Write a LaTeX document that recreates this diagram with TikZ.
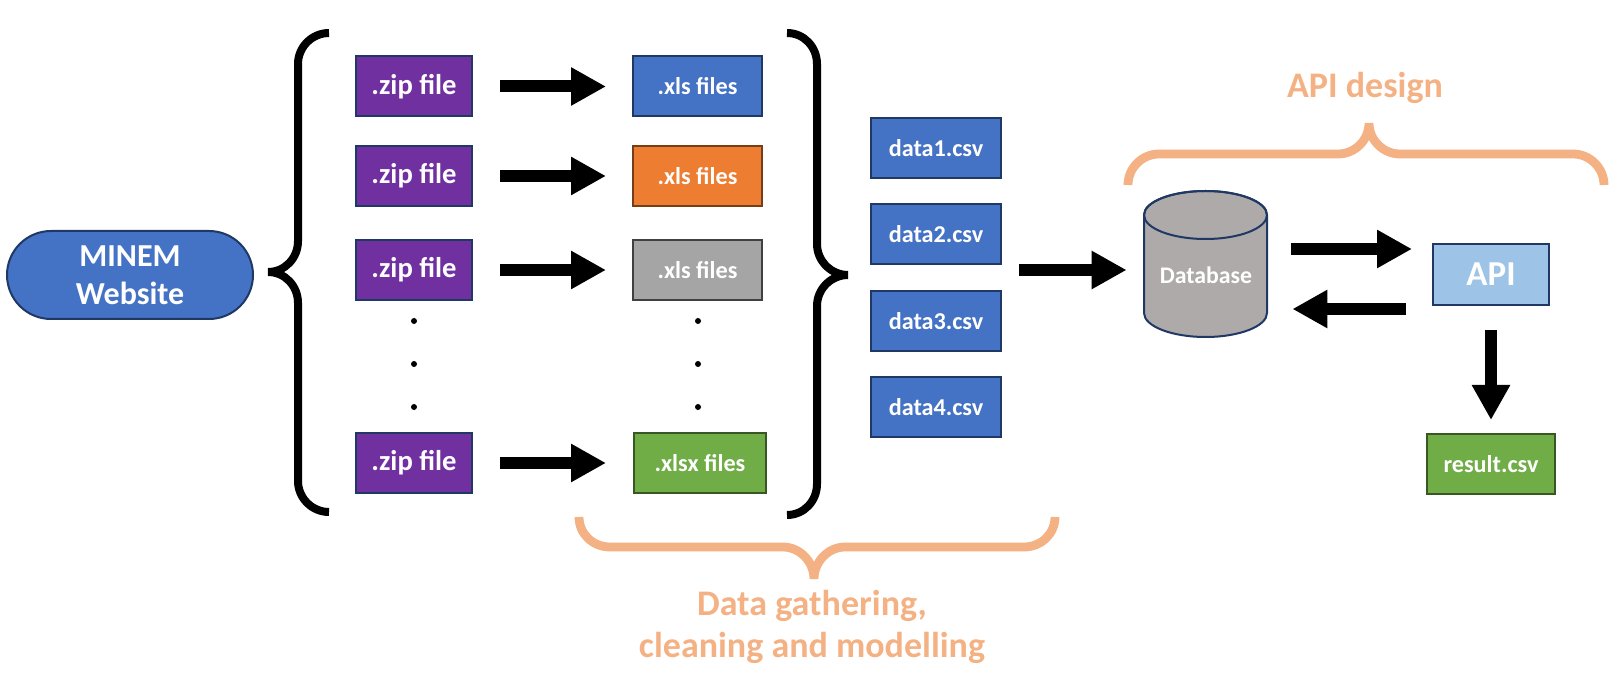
\documentclass[tikz,border=0pt]{standalone}
\usepackage{fontspec}
\setmainfont{Carlito}
\usepackage{tikz}
\usetikzlibrary{arrows.meta, calc}
\definecolor{navyblue}{HTML}{1F3864}
\definecolor{fileblue}{HTML}{4472C4}
\definecolor{zippurple}{HTML}{7030A0}
\definecolor{xlsorange}{HTML}{ED7D31}
\definecolor{xlsgray}{HTML}{A5A5A5}
\definecolor{xlsgreen}{HTML}{70AD47}
\definecolor{apiblue}{HTML}{9DC3E6}
\definecolor{dbgray}{HTML}{AEAAAA}
\definecolor{peach}{HTML}{F4B183}

\begin{document}
\begin{tikzpicture}[x=0.5pt, y=-0.5pt,
    box/.style={draw=navyblue, fill=fileblue, line width=1pt, minimum height=30pt, inner sep=0pt,
        text=white, font=\fontsize{12.1}{15}\selectfont\bfseries},
    zip/.style={box, fill=zippurple, minimum width=58pt, font=\fontsize{14.3}{17}\selectfont\bfseries},
    xls/.style={box, minimum width=64.5pt},
    csv/.style={box, minimum width=65pt},
    bigarrow/.style={line width=6pt, -{Triangle[length=17.5pt, width=18pt]}},
    curly/.style={line width=4pt},
    peachbrace/.style={peach, line width=4.4pt},
    peachtext/.style={text=peach, font=\fontsize{18}{21}\selectfont\bfseries}]
    \useasboundingbox (0,0) rectangle (1623,673);

    % source
    \node[draw=navyblue, fill=fileblue, line width=1pt, rounded corners=22pt, minimum width=123pt,
        minimum height=44pt, align=center, text=white, font=\fontsize{16}{19}\selectfont\bfseries]
        (minem) at (130,275) {MINEM\\Website};

    % files
    \node[zip] (zip1) at (414,86.5) {.zip file};
    \node[zip] (zip2) at (414,176) {.zip file};
    \node[zip] (zip3) at (414,270) {.zip file};
    \node[zip] (zip4) at (414,463) {.zip file};
    \node[xls] (xls1) at (697.5,86.5) {.xls files};
    \node[xls, fill=xlsorange, draw=xlsorange!50!black] (xls2) at (697.5,176) {.xls files};
    \node[xls, fill=xlsgray, draw=black!75] (xls3) at (697.5,270) {.xls files};
    \node[xls, fill=xlsgreen, draw=xlsgreen!50!black, minimum width=66pt] (xlsx) at (700,463) {.xlsx files};
    \foreach \y in {321,364,407} {
        \fill (414,\y) circle[radius=3];
        \fill (698,\y) circle[radius=3];
    }
    \foreach \i in {1,2,3} {
        \draw[bigarrow, shorten <=13.5pt, shorten >=13pt] (zip\i) -- (xls\i);
    }
    \draw[bigarrow, shorten <=13.5pt, shorten >=13.5pt] (zip4) -- (xlsx);

    % braces
    \draw[curly] (329,33) .. controls (312,33) and (298,47) .. (298,64) -- (298,241)
        .. controls (298,258) and (285,272) .. (268,272)
        .. controls (285,272) and (298,286) .. (298,303) -- (298,481)
        .. controls (298,498) and (312,512) .. (329,512);
    \draw[curly] (787,33) .. controls (804,33) and (817,47) .. (817,64) -- (817,244)
        .. controls (817,261) and (831,275) .. (848,275)
        .. controls (831,275) and (817,289) .. (817,306) -- (817,484)
        .. controls (817,501) and (804,515) .. (787,515);

    % csv files
    \node[csv] (data1) at (936,148) {data1.csv};
    \node[csv] (data2) at (936,234) {data2.csv};
    \node[csv] (data3) at (936,321) {data3.csv};
    \node[csv] (data4) at (936,407) {data4.csv};

    % database
    \node[minimum width=61.5pt, minimum height=73pt, inner sep=0pt] (db) at (1205.5,264) {};
    \filldraw[fill=dbgray, draw=navyblue, line width=1pt] (1144,215) -- (1144,313)
        .. controls (1144,326.2) and (1171.5,337) .. (1205.5,337)
        .. controls (1239.5,337) and (1267,326.2) .. (1267,313) -- (1267,215)
        .. controls (1267,201.8) and (1239.5,191) .. (1205.5,191)
        .. controls (1171.5,191) and (1144,201.8) .. (1144,215) -- cycle;
    \draw[navyblue, line width=1pt] (1205.5,215) ellipse[x radius=61.5, y radius=24];
    \node[text=white, font=\fontsize{11.9}{15}\selectfont\bfseries] (dblabel) at (1206,275) {Database};
    \coordinate (dataout) at (1019,270);
    \draw[bigarrow, shorten >=8.5pt] (dataout) -- (dataout -| db.west);

    % api
    \node[box, fill=apiblue, minimum width=58pt, minimum height=30.5pt,
        font=\fontsize{17.5}{21}\selectfont\bfseries] (api) at (1491,274.5) {API};
    \node[box, fill=xlsgreen, draw=xlsgreen!50!black, minimum width=64pt] (result) at (1491,464) {result.csv};
    \draw[bigarrow, shorten <=12pt, shorten >=10pt] ([yshift=7.5pt]db.east) -- ([yshift=7.5pt]db.east -| api.west);
    \draw[bigarrow, shorten <=13pt, shorten >=12.5pt] ([yshift=-22.5pt]db.east -| api.west) -- ([yshift=-22.5pt]db.east);
    \draw[bigarrow, shorten <=12pt, shorten >=6.5pt] (api) -- (result);

    % stages
    \draw[peachbrace] (1128,185) .. controls (1128,168) and (1142,154) .. (1159,154) -- (1338,154)
        .. controls (1355,154) and (1369,140) .. (1369,123)
        .. controls (1369,140) and (1383,154) .. (1400,154) -- (1573,154)
        .. controls (1590,154) and (1604,168) .. (1604,185);
    \node[peachtext, anchor=base] (apidesign) at (1365,98) {API design};
    \draw[peachbrace] (579,517) .. controls (579,534) and (593,547) .. (610,547) -- (783,547)
        .. controls (800,547) and (814,562) .. (814,579)
        .. controls (814,562) and (828,547) .. (845,547) -- (1024,547)
        .. controls (1041,547) and (1055,534) .. (1055,517);
    \node[peachtext, align=center, anchor=base]
        (gathering) at (812,657) {Data gathering,\\cleaning and modelling};
\end{tikzpicture}
\end{document}
